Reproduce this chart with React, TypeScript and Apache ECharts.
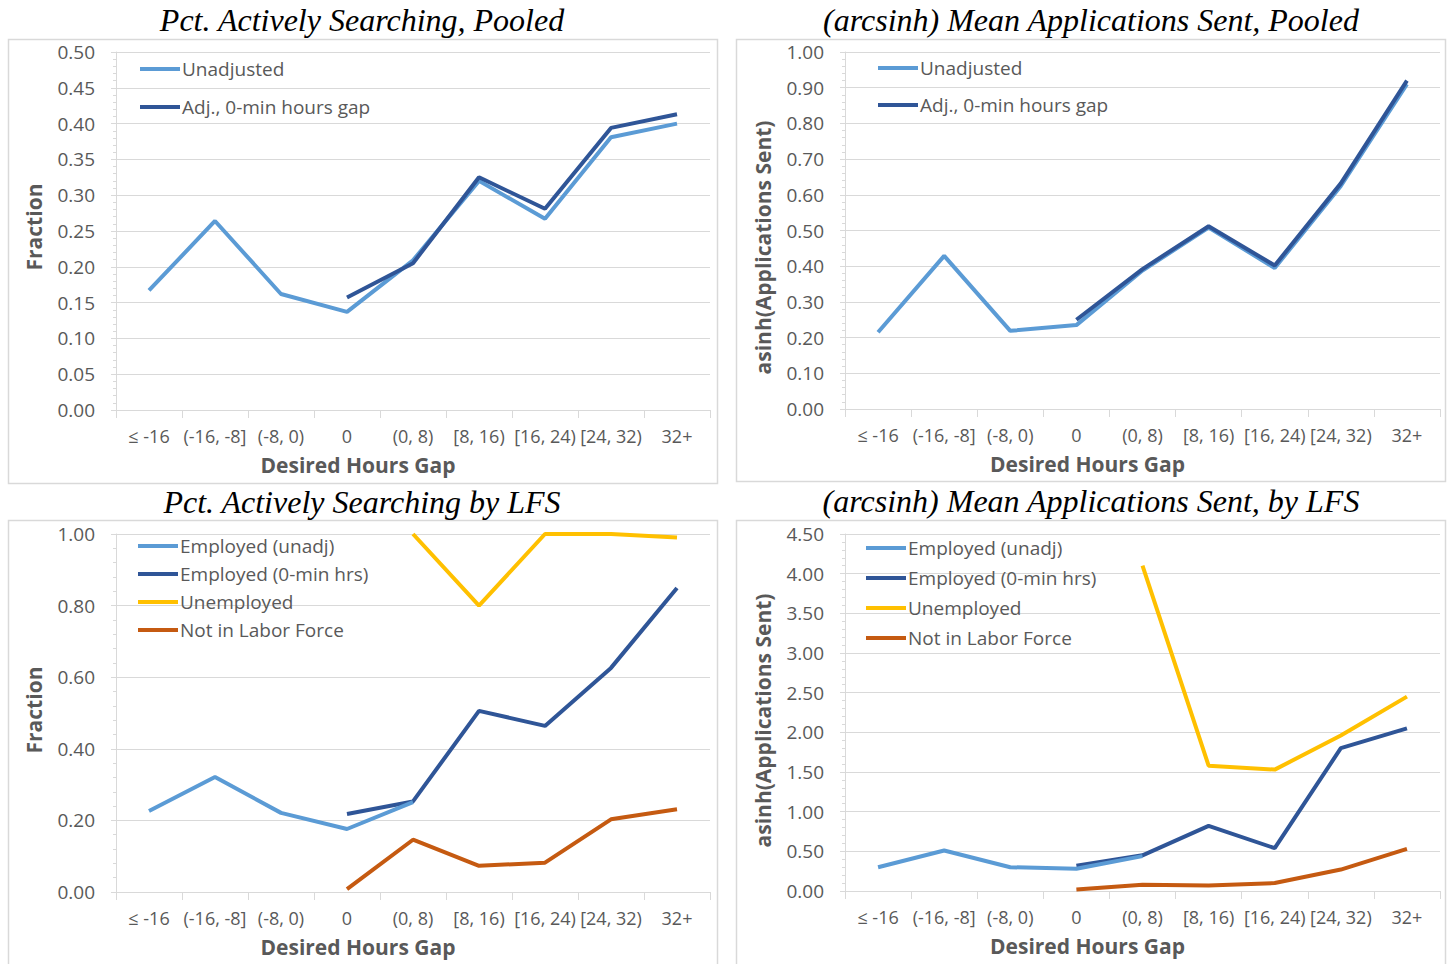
import React, { useEffect, useRef } from "react";
import * as echarts from "echarts";

const categories = ["≤ -16", "(-16, -8]", "(-8, 0)", "0", "(0, 8)", "[8, 16)", "[16, 24)", "[24, 32)", "32+"];

// Panel 1: Pct. Actively Searching, Pooled
const p1Unadjusted = [0.167, 0.264, 0.162, 0.137, 0.209, 0.320, 0.267, 0.381, 0.400];
const p1Adjusted = [null, null, null, 0.157, 0.205, 0.325, 0.281, 0.394, 0.413];

// Panel 2: (arcsinh) Mean Applications Sent, Pooled
const p2Unadjusted = [0.215, 0.429, 0.219, 0.235, 0.388, 0.508, 0.395, 0.625, 0.910];
const p2Adjusted = [null, null, null, 0.250, 0.392, 0.512, 0.402, 0.632, 0.920];

// Panel 3: Pct. Actively Searching by LFS
const p3EmpUnadj = [0.226, 0.321, 0.221, 0.176, 0.251, null, null, null, null];
const p3EmpAdj = [null, null, null, 0.218, 0.253, 0.506, 0.464, 0.626, 0.849];
const p3Unemp = [null, null, null, null, 1.0, 0.80, 1.0, 1.0, 0.99];
const p3Nilf = [null, null, null, 0.008, 0.146, 0.073, 0.082, 0.203, 0.231];

// Panel 4: (arcsinh) Mean Applications Sent, by LFS
const p4EmpUnadj = [0.30, 0.51, 0.30, 0.28, 0.44, null, null, null, null];
const p4EmpAdj = [null, null, null, 0.32, 0.45, 0.82, 0.54, 1.80, 2.05];
const p4Unemp = [null, null, null, null, 4.10, 1.58, 1.53, 1.96, 2.45];
const p4Nilf = [null, null, null, 0.02, 0.08, 0.07, 0.10, 0.27, 0.53];

const titles = [
  "Pct. Actively Searching, Pooled",
  "(arcsinh) Mean Applications Sent, Pooled",
  "Pct. Actively Searching by LFS",
  "(arcsinh) Mean Applications Sent, by LFS",
];

const C_LIGHT = "#5B9BD5";
const C_DARK = "#2F5597";
const C_YELLOW = "#FFC000";
const C_ORANGE = "#C55A11";
const GRAY = "#595959";
const LINE = "#d9d9d9";
const FONT = "'Open Sans', 'Noto Sans', sans-serif";

export default function App() {
  const ref = useRef<HTMLDivElement>(null);

  useEffect(() => {
    if (!ref.current) return;
    const chart = echarts.init(ref.current, null, { renderer: "svg" });

    const grids = [
      { left: 116, top: 52, width: 594, height: 358 },
      { left: 845, top: 52, width: 595, height: 357 },
      { left: 116, top: 534, width: 594, height: 358 },
      { left: 845, top: 534, width: 595, height: 357 },
    ];
    const yCfg = [
      { max: 0.5, interval: 0.05, name: "Fraction", pad: [0, 0, 0, 8] },
      { max: 1.0, interval: 0.1, name: "asinh(Applications Sent)", pad: [0, 34, 0, 0] },
      { max: 1.0, interval: 0.2, name: "Fraction", pad: [0, 0, 0, 6] },
      { max: 4.5, interval: 0.5, name: "asinh(Applications Sent)", pad: [0, 16, 0, 0] },
    ];

    const xAxis = grids.map((_, i) => ({
      type: "category",
      gridIndex: i,
      data: categories,
      boundaryGap: true,
      axisLine: { show: true, lineStyle: { color: LINE, width: 1 } },
      axisTick: { show: true, length: 8, lineStyle: { color: LINE } },
      axisLabel: { interval: 0, color: GRAY, fontSize: 18, fontFamily: FONT, margin: 17 },
      name: "Desired Hours Gap",
      nameLocation: "middle",
      nameGap: 44,
      nameTextStyle: {
        color: GRAY,
        fontSize: 21,
        fontWeight: "bold",
        fontFamily: FONT,
        padding: [0, 110, 0, 0],
      },
      splitLine: { show: false },
    }));

    const yAxis = yCfg.map((c, i) => ({
      type: "value",
      gridIndex: i,
      min: 0,
      max: c.max,
      interval: c.interval,
      axisLine: { show: true, lineStyle: { color: LINE, width: 1 } },
      axisTick: { show: true, length: 5, lineStyle: { color: LINE } },
      minorTick: { show: true, splitNumber: 5, length: 3, lineStyle: { color: LINE } },
      axisLabel: {
        color: GRAY,
        fontSize: 19,
        fontFamily: FONT,
        margin: 21,
        formatter: (v: number) => v.toFixed(2),
      },
      splitLine: { show: true, lineStyle: { color: LINE, width: 1 } },
      name: c.name,
      nameLocation: "middle",
      nameGap: 72,
      nameTextStyle: {
        color: GRAY,
        fontSize: 21,
        fontWeight: "bold",
        fontFamily: FONT,
        padding: c.pad,
      },
    }));

    const mk = (name: string, data: (number | null)[], color: string, idx: number, z = 2) => ({
      type: "line",
      name,
      data,
      xAxisIndex: idx,
      yAxisIndex: idx,
      symbol: "none",
      connectNulls: false,
      lineStyle: { color, width: 4 },
      itemStyle: { color },
      z,
    });

    const series = [
      mk("Unadjusted", p1Unadjusted, C_LIGHT, 0),
      mk("Adj., 0-min hours gap", p1Adjusted, C_DARK, 0, 3),
      mk("Unadjusted", p2Unadjusted, C_LIGHT, 1),
      mk("Adj., 0-min hours gap", p2Adjusted, C_DARK, 1, 3),
      mk("Employed (unadj)", p3EmpUnadj, C_LIGHT, 2, 3),
      mk("Employed (0-min hrs)", p3EmpAdj, C_DARK, 2, 2),
      mk("Unemployed", p3Unemp, C_YELLOW, 2),
      mk("Not in Labor Force", p3Nilf, C_ORANGE, 2),
      mk("Employed (unadj)", p4EmpUnadj, C_LIGHT, 3, 3),
      mk("Employed (0-min hrs)", p4EmpAdj, C_DARK, 3, 2),
      mk("Unemployed", p4Unemp, C_YELLOW, 3),
      mk("Not in Labor Force", p4Nilf, C_ORANGE, 3),
    ];

    const legendBase = {
      orient: "vertical",
      icon: "rect",
      itemWidth: 40,
      itemHeight: 4,
      padding: 0,
      selectedMode: false,
      textStyle: { color: GRAY, fontSize: 19, fontFamily: FONT, lineHeight: 20, padding: [0, 0, 0, -3] },
    };
    const legend = [
      { ...legendBase, left: 140, top: 59, itemGap: 18, data: ["Unadjusted", "Adj., 0-min hours gap"] },
      { ...legendBase, left: 878, top: 58, itemGap: 17, data: ["Unadjusted", "Adj., 0-min hours gap"] },
      {
        ...legendBase,
        left: 138,
        top: 536,
        itemGap: 8,
        data: ["Employed (unadj)", "Employed (0-min hrs)", "Unemployed", "Not in Labor Force"],
      },
      {
        ...legendBase,
        left: 866,
        top: 538,
        itemGap: 10,
        data: ["Employed (unadj)", "Employed (0-min hrs)", "Unemployed", "Not in Labor Force"],
      },
    ];

    const borders = [
      { x: 8.5, y: 39.5, width: 709, height: 444 },
      { x: 736.5, y: 39.5, width: 709, height: 442 },
      { x: 8.5, y: 520.5, width: 709, height: 460 },
      { x: 736.5, y: 520.5, width: 709, height: 460 },
    ];
    const titlePos = [
      { x: 362, y: 20 },
      { x: 1091, y: 20 },
      { x: 362, y: 502 },
      { x: 1091, y: 501 },
    ];

    const graphic = [
      ...borders.map((b) => ({
        type: "rect",
        shape: b,
        style: { fill: "none", stroke: LINE, lineWidth: 1.5 },
        z: 0,
        silent: true,
      })),
      ...titles.map((t, i) => ({
        type: "text",
        x: titlePos[i].x,
        y: titlePos[i].y,
        style: {
          text: t,
          align: "center",
          verticalAlign: "middle",
          fill: "#000",
          fontSize: 32,
          fontStyle: "italic",
          fontFamily: "'Liberation Serif', 'Times New Roman', serif",
        },
        silent: true,
      })),
    ];

    chart.setOption({
      animation: false,
      backgroundColor: "#ffffff",
      grid: grids,
      xAxis,
      yAxis,
      legend,
      series,
      graphic,
    });

    return () => chart.dispose();
  }, []);

  return (
    <div
      ref={ref}
      style={{ position: "absolute", left: 0, top: 0, width: 1453, height: 964 }}
    />
  );
}
